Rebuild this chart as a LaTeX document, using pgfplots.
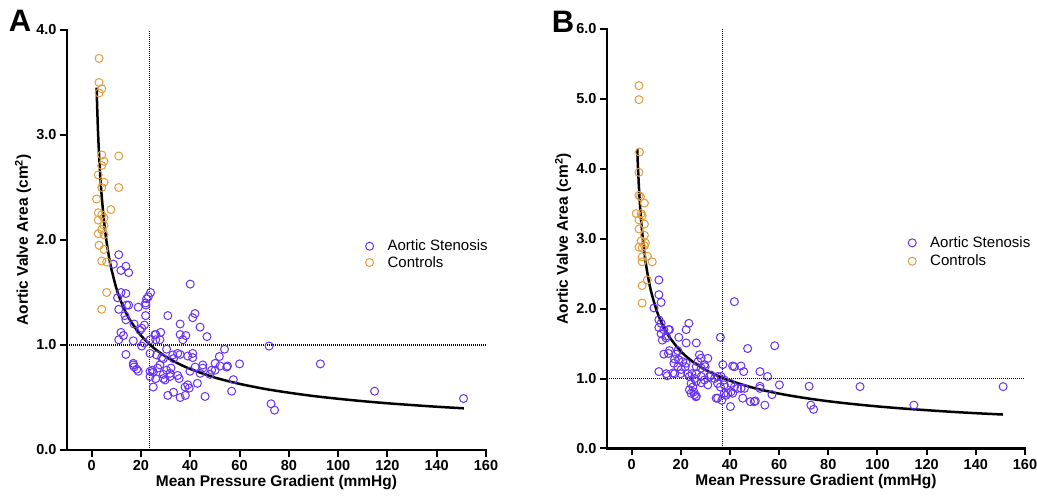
\documentclass[border=0pt]{standalone}
\usepackage{fontspec}
\setmainfont{Liberation Sans}
\usepackage{pgfplots}
\pgfplotsset{compat=1.18}

\definecolor{asc}{RGB}{104,50,245}
\definecolor{ctl}{RGB}{226,156,62}

\pgfplotsset{
  panel/.style={
    scale only axis,
    axis lines*=left,
    xmin=-10, xmax=160,
    ymin=0,
    xtick={0,20,...,160},
    tick align=outside,
    major tick length=7pt,
    axis line style={line width=2.4pt, line cap=rect},
    tick style={line width=2pt, black},
    /pgf/number format/assume math mode=true,
    tick label style={font=\bfseries\fontsize{14.5}{14.5}\selectfont},
    yticklabel style={/pgf/number format/.cd, fixed, fixed zerofill, precision=1},
    label style={font=\bfseries\fontsize{15.5}{16}\selectfont},
    xlabel={Mean Pressure Gradient (mmHg)},
    ylabel={Aortic Valve Area (cm\textsuperscript{2})},
    ylabel style={at={(axis description cs:-0.105,0.5)}, anchor=center},
    xlabel style={at={(axis description cs:0.5,-0.078)}, anchor=center},
    legend style={draw=none, fill=none, font=\fontsize{15}{18}\selectfont,
      /tikz/every odd column/.append style={column sep=12pt}},
    legend cell align=left,
  },
  as/.style={only marks, mark=o, mark size=4pt, color=asc, mark options={line width=1pt}},
  ct/.style={only marks, mark=o, mark size=4pt, color=ctl, mark options={line width=1pt}},
  fit/.style={black, line width=2.5pt, smooth, forget plot},
  ref/.style={black, line width=1.2pt, dash pattern=on 1pt off 1pt, forget plot},
}

\begin{document}
\begin{tikzpicture}
\path[use as bounding box] (0,0) rectangle (1037pt,498pt);

\node[font=\bfseries\fontsize{31}{31}\selectfont] at (20pt,477pt) {A};
\node[font=\bfseries\fontsize{31}{31}\selectfont] at (563pt,476pt) {B};

% ---------------- panel A ----------------
\begin{axis}[panel,
  at={(67pt,48pt)}, anchor=south west,
  width=419pt, height=420pt,
  ymax=4, ytick={0,1,...,4},
  legend style={at={(0.705,0.51)}, anchor=north west},
]
\addplot[ref] coordinates {(23.5,0) (23.5,4)};
\addplot[ref] coordinates {(-10,1) (160,1)};

\addplot[as] coordinates {
(11,1.86) (8.8,1.77) (13.9,1.75) (11.9,1.71) (15,1.69) (40,1.58)
(11.9,1.50) (13.9,1.49) (23.9,1.50) (23,1.46) (22.3,1.44) (10.5,1.45) (21.9,1.40) (22,1.38) (14.2,1.38) (15,1.38) (18.9,1.36) (11,1.34)
(21.9,1.28) (13.5,1.28) (30.9,1.28) (41.9,1.30) (41,1.26) (13.9,1.24)
(44,1.17) (35.9,1.20) (17.2,1.20) (21.4,1.19) (19.6,1.14) (20.3,1.16) (11.9,1.12)
(35.9,1.10) (38.2,1.09) (26,1.10) (28,1.12) (12.9,1.09) (46.8,1.08) (25.7,1.10)
(11,1.05) (37,1.05) (23.7,1.05) (26,1.05) (27.7,1.05) (16.9,1.04) (21.2,1.02) (20.3,0.99) (72,0.99)
(53.9,0.96) (30.4,0.96) (13.9,0.91) (23.7,0.92) (26.4,0.905) (34.9,0.92) (32.9,0.905) (35.9,0.91) (41,0.92) (39,0.895) (28.4,0.88) (29.1,0.87) (51.8,0.89) (41,0.88) (33.2,0.87)
(16.9,0.825) (17.2,0.79) (18.9,0.75) (60,0.82) (55.1,0.80) (45.1,0.81) (45.1,0.78) (42,0.79) (50.1,0.76) (48,0.72) (32.2,0.78) (27.7,0.81) (26.8,0.78) (23.7,0.75) (25,0.74) (29.1,0.72) (31.8,0.73) (34.9,0.71) (39.9,0.75) (48.7,0.76) (52.1,0.80) (50.1,0.825) (54.8,0.79) (30.4,0.76) (24.6,0.76) (18.3,0.77) (16.9,0.81) (44,0.73)
(29.1,0.68) (26,0.68) (35.5,0.68) (31.8,0.70) (37.9,0.60) (39,0.62) (42.9,0.635) (57.5,0.67) (23.7,0.70) (25,0.60) (29.8,0.667)
(30.9,0.52) (33.2,0.55) (35.9,0.50) (38,0.52) (46,0.51) (56.8,0.56) (39.6,0.59)
(72.8,0.44) (74.2,0.38) (92.8,0.82) (114.8,0.56) (150.9,0.49)
};
\addlegendentry{Aortic Stenosis}

\addplot[ct] coordinates {
(3.0,3.73) (3.0,3.50) (4.1,3.44) (3.0,3.40) (4.1,2.81) (11.0,2.80) (5.0,2.75) (4.1,2.71) (2.7,2.62) (5.0,2.55) (4.1,2.50) (11.0,2.50) (2.0,2.39) (7.8,2.29) (2.7,2.26) (4.1,2.24) (5.0,2.21) (2.7,2.19) (5.0,2.14) (4.1,2.10) (2.7,2.06) (5.0,2.05) (3.0,1.95) (5.0,1.91) (4.1,1.80) (6.1,1.79) (6.1,1.50) (4.1,1.34)
};
\addlegendentry{Controls}

\addplot[fit] coordinates {
(2,3.451) (2.5,3.086) (3,2.817) (3.5,2.608) (4,2.44) (5,2.182) (6,1.992) (7,1.844) (8,1.725) (10,1.543) (12,1.409) (15,1.260) (20,1.091) (25,0.976) (30,0.891) (35,0.825) (40,0.772) (50,0.690) (60,0.630) (70,0.583) (80,0.546) (90,0.514) (100,0.488) (110,0.465) (120,0.445) (130,0.428) (140,0.412) (151,0.397)
};
\end{axis}

% ---------------- panel B ----------------
\begin{axis}[panel,
  at={(607pt,49.5pt)}, anchor=south west,
  width=418pt, height=419.5pt,
  ymax=6, ytick={0,1,...,6},
  legend style={at={(0.713,0.515)}, anchor=north west, row sep=2pt},
]
\addplot[ref] coordinates {(37,0) (37,6)};
\addplot[ref] coordinates {(-10,1) (160,1)};

\addplot[as] coordinates {
(11.1,2.41) (11.1,2.20) (12.0,2.09) (9.1,2.01) (41.8,2.10)
(11.1,1.84) (12.0,1.79) (11.1,1.73) (13.1,1.70) (15.0,1.70) (12.0,1.64) (14.1,1.61) (15.4,1.70) (12.5,1.55) (14.0,1.58)
(23.3,1.79) (22.2,1.70) (19.2,1.59) (22.2,1.51) (26.3,1.51) (36.1,1.59) (47.2,1.43) (58.2,1.47)
(13.1,1.35) (15.0,1.36) (15.4,1.40) (17.5,1.28) (18.1,1.35) (18.8,1.40)
(17.2,1.22) (19.1,1.27) (20.8,1.24) (22.2,1.22) (21.8,1.17) (18.8,1.17) (20.2,1.13)
(27.6,1.34) (28.3,1.29) (31.0,1.29) (29.6,1.20) (27.0,1.24) (26.3,1.17) (28.3,1.15) (29.9,1.17)
(22.9,1.07) (24.5,1.07) (26.3,1.07) (11.1,1.10) (14.1,1.07) (17.5,1.07) (19.9,1.07) (14.5,1.04) (16.8,1.08)
(37.1,1.20) (41.1,1.18) (41.8,1.17) (44.5,1.18) (45.6,1.10) (52.2,1.10) (55.3,1.03) (60.1,0.91)
(31.7,1.03) (33.7,1.00) (35.0,1.03) (36.4,1.03) (28.3,1.03) (29.6,0.98) (32.3,1.05) (37.7,0.98)
(24.2,0.93) (26.3,0.96) (28.3,0.94) (23.5,1.03) (25.6,1.00) (31.0,0.91)
(24.9,0.88) (23.5,0.84) (24.2,0.79) (25.6,0.77) (26.3,0.75) (25.3,0.81) (26.2,0.74)
(35.0,0.93) (36.1,0.88) (37.7,0.91) (35.0,0.72) (36.7,0.69) (37.7,0.79) (34.4,0.72) (38.4,0.76)
(39.1,0.79) (40.4,0.81) (41.1,0.79) (40.2,0.60) (40.4,0.93)
(41.8,0.88) (44.5,0.86) (45.9,0.86) (43.1,0.86)
(45.2,0.72) (48.3,0.67) (50.3,0.68) (52.2,0.89) (52.2,0.86) (57.1,0.77) (54.2,0.62) (49.9,0.67)
(72.2,0.89) (72.9,0.62) (74.0,0.56) (92.9,0.885) (114.8,0.62) (151.1,0.885)
};
\addlegendentry{Aortic Stenosis}

\addplot[ct] coordinates {
(3.0,5.19) (3.0,4.99) (3.2,4.24) (3.0,3.95) (3.0,3.62) (3.6,3.60) (5.2,3.51) (1.9,3.36) (3.9,3.36) (4.3,3.33) (3.0,3.27) (5.2,3.21) (3.0,3.14) (5.2,3.05) (3.9,2.97) (5.6,2.94) (3.0,2.88) (4.3,2.87) (5.2,2.90) (6.4,2.75) (4.3,2.74) (8.4,2.67) (4.3,2.67) (6.4,2.41) (4.3,2.33) (4.3,2.08)
};
\addlegendentry{Controls}

\addplot[fit] coordinates {
(2.3,4.28) (2.5,4.10) (3,3.728) (3.5,3.441) (4,3.210) (5,2.858) (6,2.600) (7,2.399) (8,2.238) (10,1.993) (12,1.813) (15,1.614) (20,1.390) (25,1.238) (30,1.126) (35,1.039) (40,0.970) (50,0.863) (60,0.785) (70,0.725) (80,0.676) (90,0.636) (100,0.602) (110,0.573) (120,0.548) (130,0.525) (140,0.505) (151,0.486)
};
\end{axis}
\end{tikzpicture}
\end{document}
